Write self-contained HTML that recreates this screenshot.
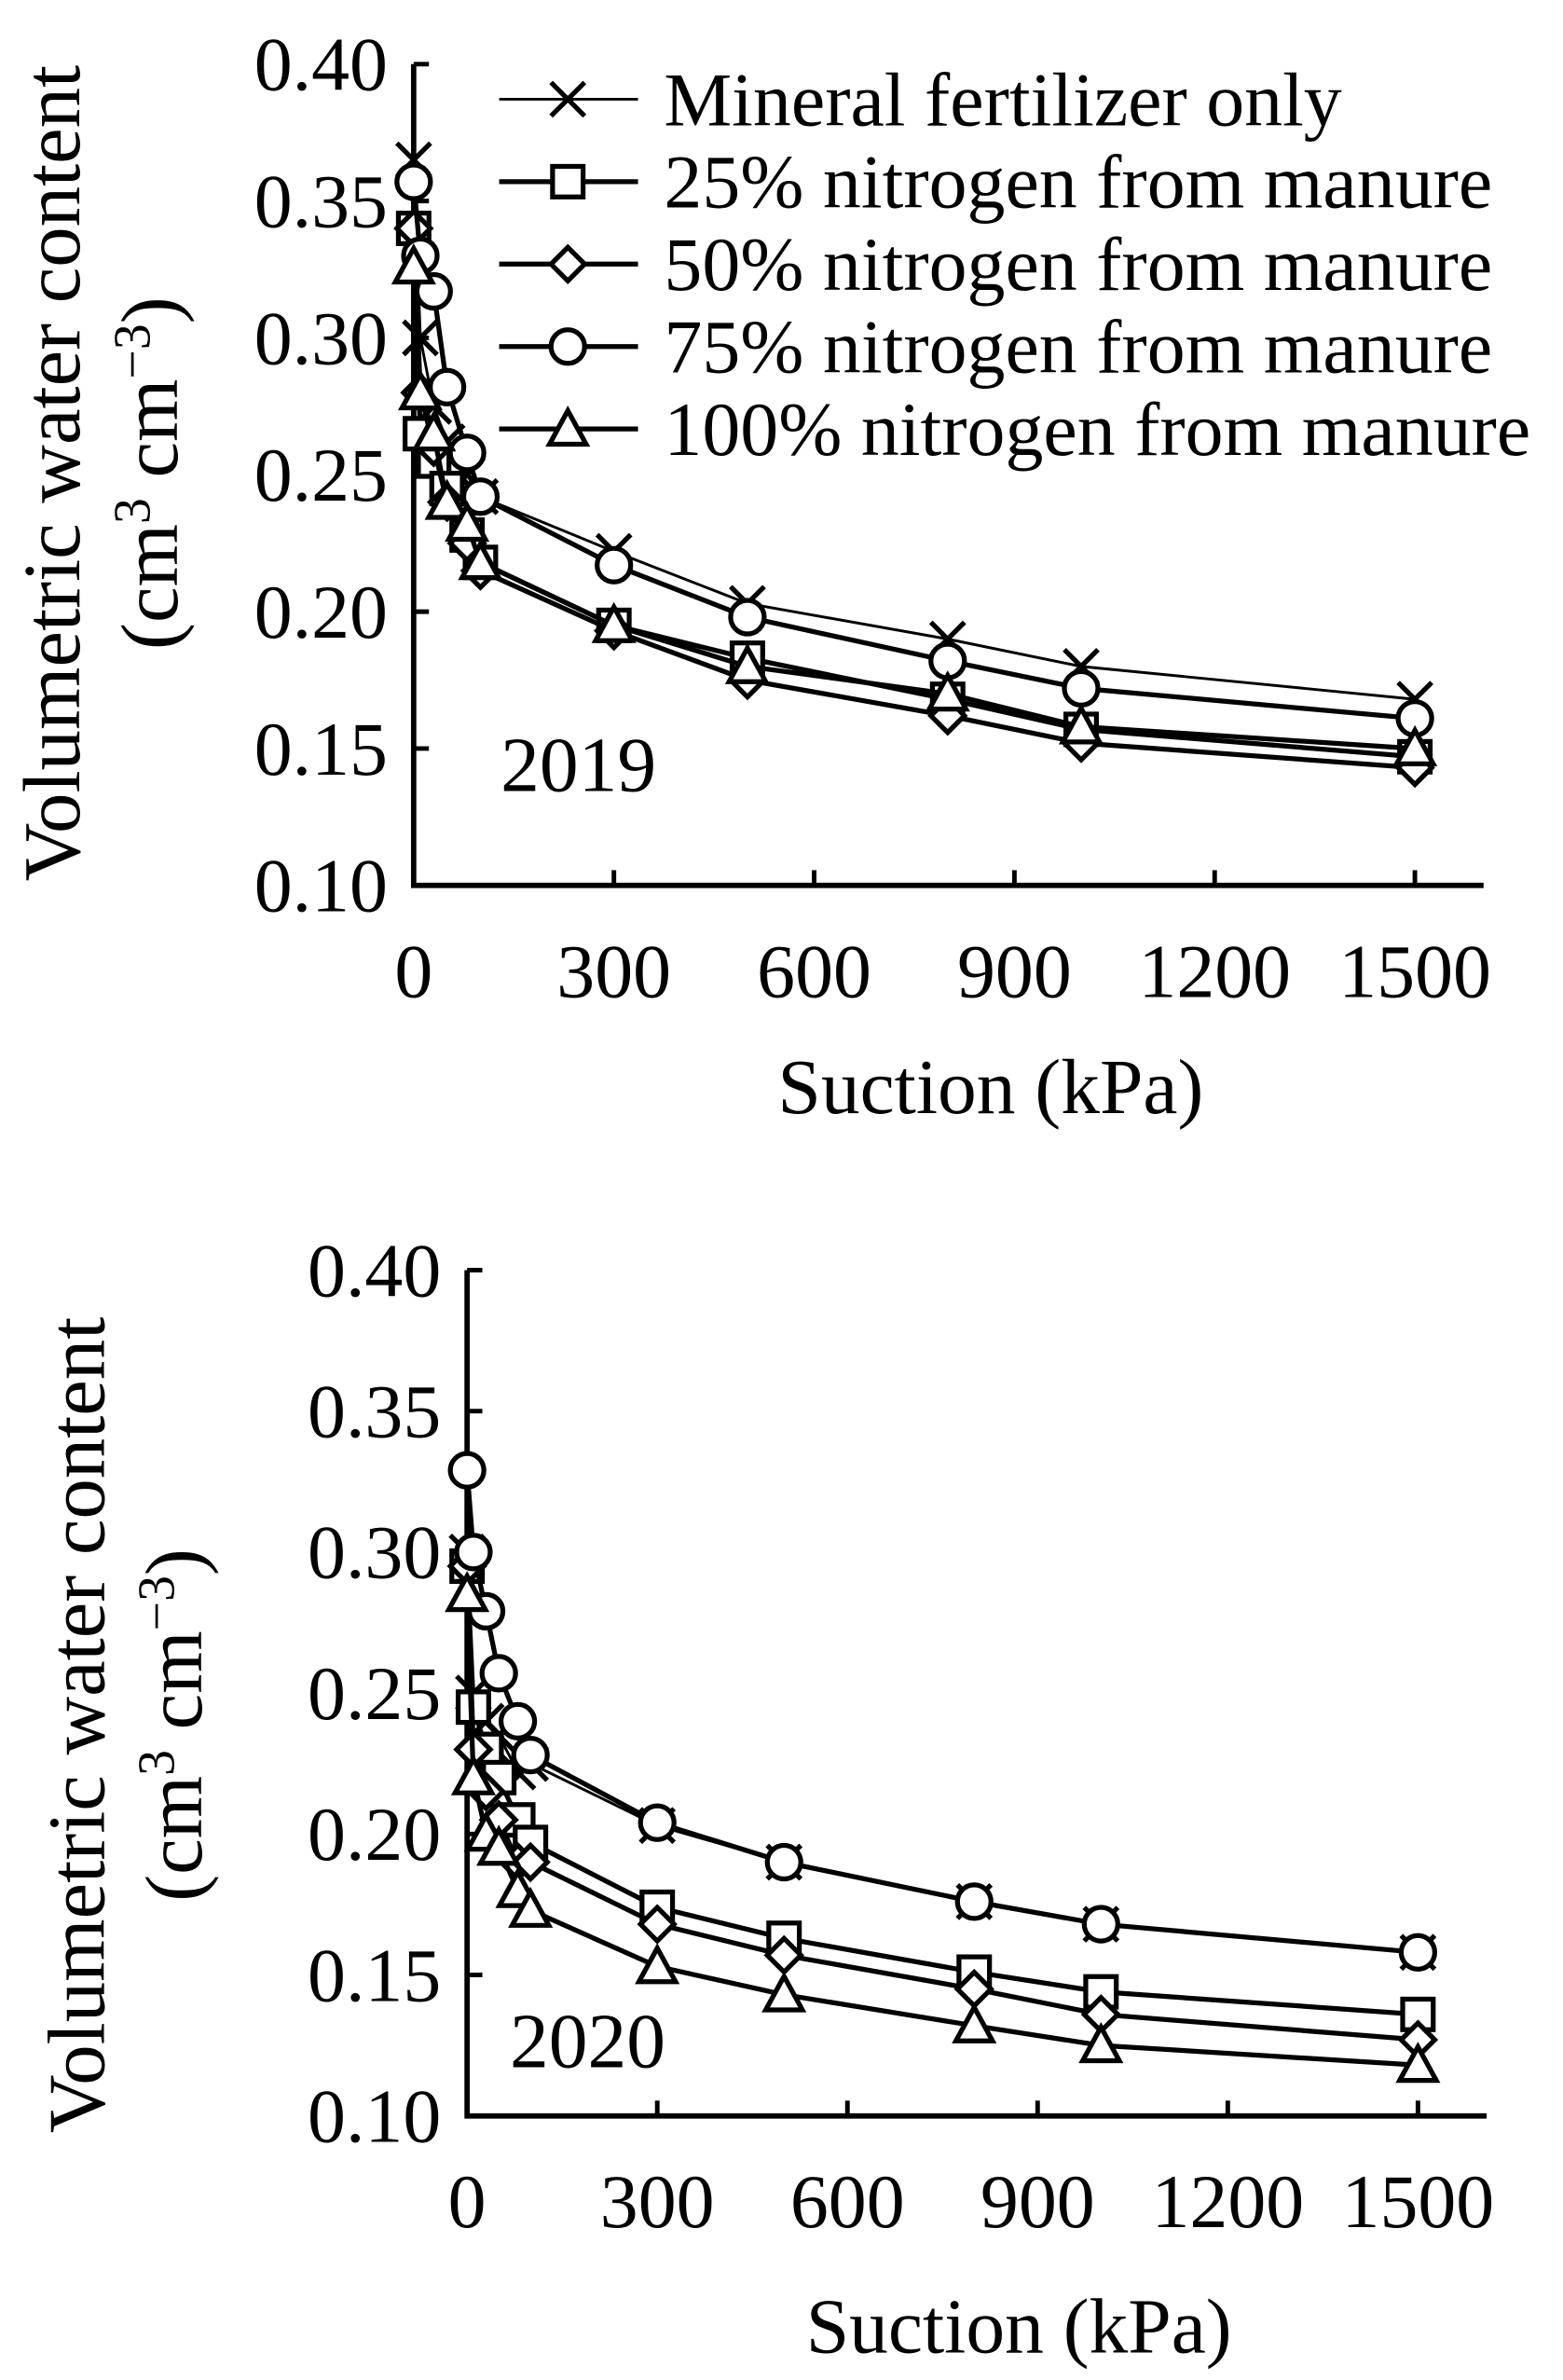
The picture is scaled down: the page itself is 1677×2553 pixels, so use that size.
<!DOCTYPE html>
<html><head><meta charset="utf-8"><style>
html,body{margin:0;padding:0;background:#fff}
svg{display:block}
text{font-family:"Liberation Serif",serif;fill:#000}
</style></head><body>
<svg id="s" width="1677" height="2553" viewBox="0 0 1024 1559" xmlns="http://www.w3.org/2000/svg"></svg>
<script>
const suction = [0,10,30,50,80,100,300,500,800,1000,1500];
const seriesNames = ["Mineral fertilizer only","25% nitrogen from manure","50% nitrogen from manure","75% nitrogen from manure","100% nitrogen from manure"];
const markers = ["x","square","diamond","circle","triangle"];
const xTicks = [0,300,600,900,1200,1500];
const yTicks = [0.10,0.15,0.20,0.25,0.30,0.35,0.40];
// 2019
const min2019 = [0.365,0.300,0.275,0.262,0.250,0.242,0.222,0.203,0.190,0.180,0.168];
const n25_2019 = [0.340,0.265,0.255,0.245,0.228,0.218,0.195,0.183,0.168,0.157,0.147];
const n50_2019 = [0.340,0.280,0.260,0.240,0.225,0.215,0.193,0.175,0.162,0.152,0.143];
const n75_2019 = [0.357,0.330,0.317,0.282,0.258,0.242,0.217,0.198,0.182,0.172,0.161];
const n100_2019 = [0.326,0.280,0.265,0.240,0.232,0.218,0.195,0.180,0.170,0.158,0.150];
// 2020
const min2020 = [0.300,0.250,0.240,0.235,0.222,0.225,0.203,0.190,0.176,0.168,0.158];
const n25_2020 = [0.295,0.245,0.230,0.220,0.205,0.197,0.174,0.163,0.151,0.144,0.136];
const n50_2020 = [0.295,0.230,0.215,0.205,0.190,0.190,0.168,0.157,0.145,0.136,0.127];
const n75_2020 = [0.329,0.300,0.279,0.257,0.240,0.228,0.204,0.190,0.176,0.168,0.158];
const n100_2020 = [0.285,0.220,0.200,0.195,0.180,0.173,0.153,0.143,0.132,0.125,0.118];

const NS="http://www.w3.org/2000/svg";
const svg=document.getElementById('s');
function mk(tag,attrs,parent){const e=document.createElementNS(NS,tag);for(const k in attrs)e.setAttribute(k,attrs[k]);(parent||svg).appendChild(e);return e;}
function marker(g,type,x,y){
  const r=11;let e;
  const st={fill:'#fff',stroke:'#000','stroke-width':3.2};
  if(type==='x'){e=mk('path',{d:`M${x-r} ${y-r}L${x+r} ${y+r}M${x-r} ${y+r}L${x+r} ${y-r}`,stroke:'#000','stroke-width':3.2,fill:'none'},g);}
  else if(type==='square'){e=mk('rect',Object.assign({x:x-10,y:y-10,width:20,height:20},st),g);}
  else if(type==='diamond'){e=mk('path',Object.assign({d:`M${x} ${y-11}L${x+11} ${y}L${x} ${y+11}L${x-11} ${y}Z`},st),g);}
  else if(type==='circle'){e=mk('circle',Object.assign({cx:x,cy:y,r:11},st),g);}
  else {e=mk('path',Object.assign({d:`M${x} ${y-12}L${x+12} ${y+10}L${x-12} ${y+10}Z`},st),g);}
  
  
  return e;
}
function chart(cfg){
  const {x0,x1,y0,y1,data,tag,yearX,yearY,tickLabelX,xLabY,xTitleY,yT1,yT2,cy}=cfg;
  const g=mk('g',{});
  
  
  const X=v=>x0+(v/1500)*(x1-x0);
  const Y=v=>y1-(v-0.10)/0.30*(y1-y0);
  const ax=mk('path',{d:`M${x0} ${y0}L${x0} ${y1}L${x1+45} ${y1}`,stroke:'#000','stroke-width':3.5,fill:'none'},g);
  
  
  yTicks.forEach(t=>{
    const tk=mk('line',{x1:x0,x2:x0+10,y1:Y(t),y2:Y(t),stroke:'#000','stroke-width':3},g);
    
    
    const tl=mk('text',{x:tickLabelX,y:Y(t)+17,'font-size':50,'text-anchor':'end'},g);
    tl.textContent=t.toFixed(2);
    
    
  });
  xTicks.forEach(t=>{
    const tk=mk('line',{x1:X(t),x2:X(t),y1:y1,y2:y1-10,stroke:'#000','stroke-width':3},g);
    
    
    const tl=mk('text',{x:X(t),y:xLabY,'font-size':50,'text-anchor':'middle'},g);
    tl.textContent=String(t);
    
    
  });
  data.forEach((vals,i)=>{
    const sg=mk('g',{},g);
    
    
    const pts=vals.map((v,j)=>X(suction[j])+','+Y(v)).join(' ');
    const pl=mk('polyline',{points:pts,fill:'none',stroke:'#000','stroke-width':i===0?1.8:3.2},sg);
    
    
    vals.forEach((v,j)=>marker(sg,markers[i],X(suction[j]),Y(v)));
  });
  const yr=mk('text',{x:yearX,y:yearY,'font-size':51},g);
  yr.textContent=tag;
  
  
  const xt=mk('text',{x:(x0+x1)/2+50,y:xTitleY,'font-size':51,'text-anchor':'middle'},g);
  xt.textContent='Suction (kPa)';
  
  
  const t1=mk('text',{x:0,y:0,'font-size':53,'text-anchor':'middle',transform:`translate(${yT1},${cy}) rotate(-90)`},g);
  t1.textContent='Volumetric water content';
  
  
  const t2=mk('text',{x:0,y:0,'font-size':53,'text-anchor':'middle',transform:`translate(${yT2},${cy}) rotate(-90)`},g);
  t2.innerHTML='(cm<tspan font-size="34" dy="-18">3</tspan><tspan dy="18"> cm</tspan><tspan font-size="34" dy="-18">−3</tspan><tspan dy="18">)</tspan>';
  
  
}
chart({x0:271,x1:927,y0:42,y1:580,data:[min2019,n25_2019,n50_2019,n75_2019,n100_2019],tag:'2019',yearX:328,yearY:518,tickLabelX:254,xLabY:653,xTitleY:729,yT1:52,yT2:116,cy:310});
chart({x0:306,x1:929,y0:832,y1:1386,data:[min2020,n25_2020,n50_2020,n75_2020,n100_2020],tag:'2020',yearX:334,yearY:1354,tickLabelX:289,xLabY:1459,xTitleY:1541,yT1:68,yT2:132,cy:1130});
// legend
const lg=mk('g',{});


seriesNames.forEach((n,i)=>{
  const y=65+i*54;
  const eg=mk('g',{},lg);
  
  
  mk('line',{x1:327,x2:418,y1:y,y2:y,stroke:'#000','stroke-width':i===0?1.8:3.2},eg);
  marker(eg,markers[i],372,y);
  const t=mk('text',{x:435,y:y+17,'font-size':50},eg);
  t.textContent=n;
  
  
});
</script>
</body></html>
